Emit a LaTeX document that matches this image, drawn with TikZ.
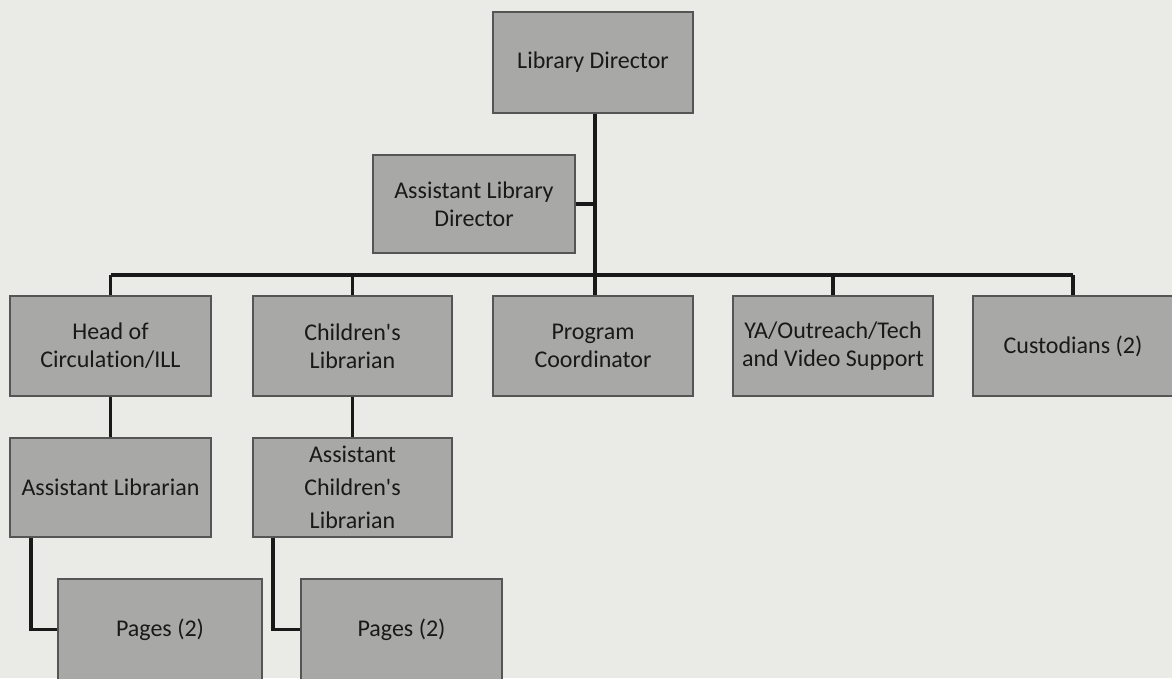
\documentclass[tikz,border=0pt]{standalone}
\usepackage{fontspec}
\setmainfont{Carlito}[Ligatures={TeXOff,NoCommon}]
\definecolor{bg}{RGB}{234,234,230}
\definecolor{boxfill}{RGB}{168,168,166}
\definecolor{boxline}{RGB}{85,85,85}
\begin{document}
\begin{tikzpicture}[x=1pt,y=-1pt,
  box/.style={draw=boxline,line width=1.5pt,fill=boxfill,rectangle,inner sep=2pt,
    minimum width=200pt,minimum height=100pt,align=center,
    font=\fontsize{24}{28}\selectfont,text=black!90},
  conn/.style={line width=3.5pt,draw=black!90}]
\fill[bg] (0,0) rectangle (1172,678);
\useasboundingbox (0,0) rectangle (1172,678);
% nodes
\node[box,minimum height=101pt] (ld) at (593,62.5) {Library Director};
\node[box,minimum width=202pt,minimum height=98pt] (ald) at (474,204) {Assistant Library\\Director};
\node[box,minimum width=201pt] (hc) at (110.5,346) {Head of\\Circulation/ILL};
\node[box,minimum width=199pt] (cl) at (352.5,346) {Children's\\Librarian};
\node[box] (pc) at (593,346) {Program\\Coordinator};
\node[box] (ya) at (833,346) {YA/Outreach/Tech\\and Video Support};
\node[box] (cu) at (1073,346) {Custodians (2)};
\node[box,minimum width=201pt,minimum height=99pt] (al) at (110.5,487.5) {Assistant Librarian};
\node[box,minimum width=199pt,minimum height=99pt,font=\fontsize{24}{33}\selectfont] (acl) at (352.5,487.5) {Assistant\\Children's\\Librarian};
\node[box,minimum width=204pt,minimum height=101pt] (p1) at (160,629.5) {Pages (2)};
\node[box,minimum width=201pt,minimum height=101pt] (p2) at (401.5,629.5) {Pages (2)};
% junction coordinates
\coordinate (top) at (595,112);
\coordinate (busC) at (595,275);
\coordinate (busL) at (110.5,275);
\coordinate (busR) at (1073,275);
% connectors
\draw[conn] (ld.south -| top) -- (busC);
\draw[conn] (ald.east) -- (ald.east -| top);
\draw[conn] (busL) -- (busR);
\draw[conn] (busL) -- (hc.north);
\draw[conn] (busL -| cl.north) -- (cl.north);
\draw[conn] (busC) -- (pc.north -| busC);
\draw[conn] (busL -| ya.north) -- (ya.north);
\draw[conn] (busR) -- (cu.north);
\draw[conn] (hc.south) -- (al.north);
\draw[conn] (cl.south) -- (acl.north);
\coordinate (alx) at (31,0);
\coordinate (aclx) at (273,0);
\draw[conn] (al.south -| alx) |- (p1.west);
\draw[conn] (acl.south -| aclx) |- (p2.west);
\end{tikzpicture}
\end{document}
